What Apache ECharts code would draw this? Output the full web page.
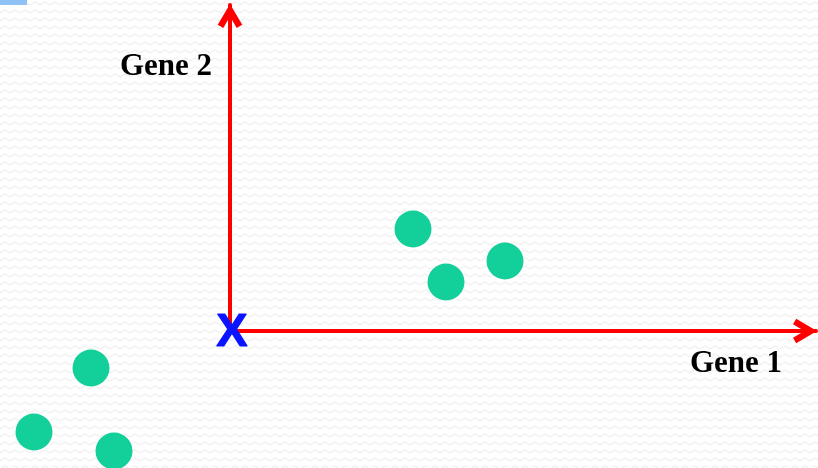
<!DOCTYPE html>
<html>
<head>
<meta charset="utf-8">
<script src="https://cdn.jsdelivr.net/npm/echarts@6/dist/echarts.min.js"></script>
<style>
  html, body { margin: 0; padding: 0; background: #fff; }
  #main { width: 818px; height: 468px; }
</style>
</head>
<body>
<div id="main"></div>
<script>
// points in "gene space", origin at the crossing of the two red axes
var gene1 = [183, 216, 275, -139, -196, -116];
var gene2 = [102, 49, 70, -37, -101, -120];
var axisNames = ['Gene 1', 'Gene 2'];
var originMark = 'X';

// faint zigzag texture behind the chart
var pat = document.createElement('canvas');
pat.width = 10; pat.height = 8;
var pc = pat.getContext('2d');
pc.fillStyle = '#ffffff';
pc.fillRect(0, 0, 10, 8);
pc.strokeStyle = '#f0f0f0';
pc.lineWidth = 1.2;
pc.beginPath();
pc.moveTo(0, 5); pc.lineTo(5, 2); pc.lineTo(10, 5);
pc.stroke();
document.getElementById('main').style.backgroundImage = 'url(' + pat.toDataURL() + ')';

// open arrow head, pointing up
var chevron = 'path://M11.5,0 L23,19.5 L17.8,22.5 L11.5,11.8 L5.2,22.5 L0,19.5 Z';

var pts = gene1.map(function (v, i) { return [v, gene2[i]]; });

var arrowLine = {
  show: true, onZero: false,
  lineStyle: { color: '#ff0000', width: 4 },
  symbol: ['none', chevron], symbolSize: [25, 24], symbolOffset: [0, -11]
};

var myChart = echarts.init(document.getElementById('main'));
var option = {
  backgroundColor: 'transparent',
  animation: false,
  grid: { left: 230, right: 2, top: 5, bottom: 137 },
  xAxis: {
    type: 'value', min: 0, max: 586,
    axisLine: arrowLine,
    axisTick: { show: false }, axisLabel: { show: false }, splitLine: { show: false }
  },
  yAxis: {
    type: 'value', min: 0, max: 326,
    axisLine: arrowLine,
    axisTick: { show: false }, axisLabel: { show: false }, splitLine: { show: false }
  },
  graphic: [
    { type: 'rect', left: 0, top: 0, shape: { width: 27, height: 5 }, style: { fill: '#8ec2f4' } },
    {
      type: 'text', x: 212, y: 82,
      style: {
        text: axisNames[1], fill: '#000', align: 'right', verticalAlign: 'bottom',
        font: 'bold 31px "Liberation Serif", serif'
      }
    },
    {
      type: 'text', x: 690, y: 379,
      style: {
        text: axisNames[0], fill: '#000', align: 'left', verticalAlign: 'bottom',
        font: 'bold 31px "Liberation Serif", serif'
      }
    },
    {
      type: 'text', x: 232, y: 333, z: 10,
      style: {
        text: originMark, fill: '#0a14ff', align: 'center', verticalAlign: 'middle',
        font: 'bold 47px "Liberation Sans", Arial, sans-serif',
        stroke: '#0a14ff', lineWidth: 1.2,
        shadowColor: 'rgba(0,0,0,0.3)', shadowBlur: 3, shadowOffsetX: 2, shadowOffsetY: 2
      }
    }
  ],
  series: [{
    type: 'scatter',
    clip: false,
    symbolSize: 37,
    itemStyle: { color: '#13cf9a', opacity: 1 },
    data: pts
  }]
};
myChart.setOption(option);
</script>
</body>
</html>
